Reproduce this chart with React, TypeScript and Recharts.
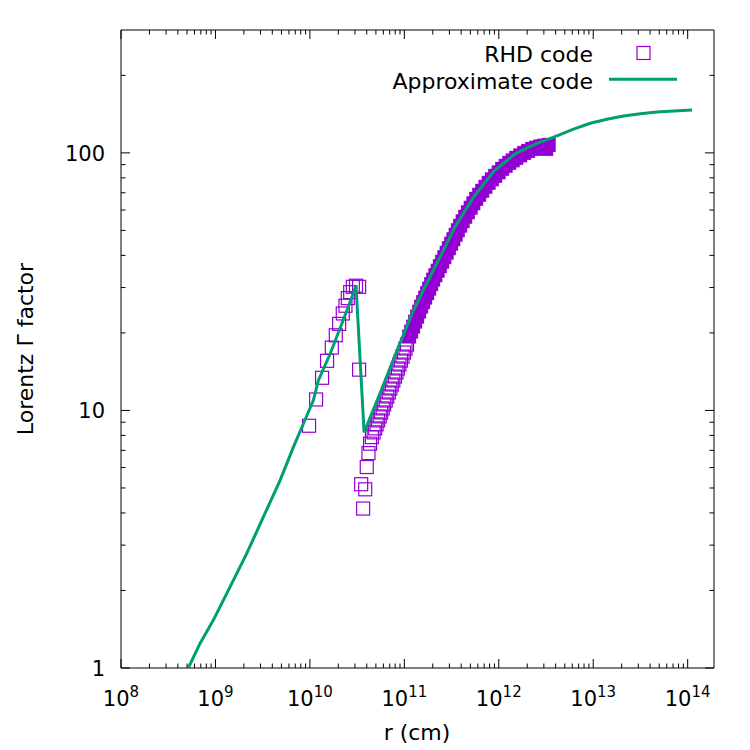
import React from "react";
import { ComposedChart, XAxis, YAxis, Line, Scatter, Legend, ReferenceLine } from "recharts";

// RHD code, rising branch up to the peak: [r (cm), Lorentz factor]
const rhdRise = [
  [9.8e9, 8.72],
  [1.163e10, 11.03],
  [1.346e10, 13.39],
  [1.52e10, 15.58],
  [1.706e10, 17.54],
  [1.88e10, 19.58],
  [2.04e10, 21.68],
  [2.23e10, 23.8],
  [2.38e10, 25.5],
  [2.52e10, 27.3],
  [2.67e10, 28.8],
  [2.85e10, 30.2],
  [3.08e10, 30.5],
  [3.32e10, 30.2],
];

// RHD code, the drop after the peak
const rhdDrop = [
  [3.32e10, 14.4],
  [3.49e10, 5.17],
  [3.66e10, 4.16],
  [3.85e10, 4.94],
  [4.0e10, 6.03],
  [4.17e10, 6.83],
  [4.34e10, 7.43],
];

// RHD code, lower part of the dense band (squares still visible one by one)
const rhdBandLow = [
  [4.53e10, 7.88], [4.73e10, 8.22], [4.91e10, 8.52], [5.09e10, 8.83],
  [5.28e10, 9.15], [5.49e10, 9.48], [5.69e10, 9.82], [5.9e10, 10.18],
  [6.12e10, 10.55], [6.35e10, 10.93], [6.6e10, 11.33], [6.85e10, 11.74],
  [7.11e10, 12.17], [7.37e10, 12.61], [7.65e10, 13.07], [7.95e10, 13.54],
  [8.25e10, 14.04], [8.55e10, 14.55], [8.87e10, 15.08], [9.2e10, 15.62],
  [9.57e10, 16.19], [9.93e10, 16.78], [1.03e11, 17.39], [1.068e11, 18.02],
];

// RHD code, upper part of the band (squares so dense they merge)
const rhdBandHigh = [
  [1.124e11, 19.36], [1.18e11, 20.24], [1.239e11, 21.16], [1.302e11, 22.13],
  [1.366e11, 23.14], [1.435e11, 24.2], [1.507e11, 25.3], [1.582e11, 26.34],
  [1.661e11, 27.42], [1.744e11, 28.54], [1.831e11, 29.71], [1.923e11, 30.93],
  [2.019e11, 32.2], [2.131e11, 33.51], [2.254e11, 34.88], [2.377e11, 36.32],
  [2.515e11, 37.8], [2.653e11, 39.36], [2.806e11, 40.97], [2.961e11, 42.65],
  [3.132e11, 44.39], [3.304e11, 46.21], [3.495e11, 48.11], [3.687e11, 50.07],
  [3.9e11, 52.14], [4.146e11, 54.27], [4.406e11, 56.49], [4.706e11, 58.81],
  [5.04e11, 61.22], [5.38e11, 63.72], [5.763e11, 66.33], [6.2e11, 68.74],
  [6.672e11, 71.25], [7.215e11, 73.84], [7.816e11, 76.52], [8.454e11, 78.93],
  [9.16e11, 81.45], [9.975e11, 84.03], [1.086e12, 86.7], [1.183e12, 89.06],
  [1.289e12, 91.46], [1.404e12, 93.52], [1.529e12, 95.63], [1.685e12, 97.79],
  [1.858e12, 100], [2.048e12, 101.8], [2.258e12, 103.6], [2.49e12, 104.8],
  [2.746e12, 105.98], [3.026e12, 106.7], [3.178e12, 103.6], [3.378e12, 107.4],
];

// Approximate code
const approxCode = [
  [5.16e8, 1.0],
  [6.87e8, 1.246],
  [9.5e8, 1.535],
  [1.428e9, 2.066],
  [2.146e9, 2.784],
  [3.217e9, 3.858],
  [4.834e9, 5.355],
  [6.687e9, 7.206],
  [8.532e9, 8.878],
  [1.089e10, 10.94],
  [1.23e10, 13.07],
  [1.64e10, 16.6],
  [2.46e10, 24.4],
  [3.08e10, 30.5],
  [3.75e10, 8.22],
  [5.68e10, 11.95],
  [8.59e10, 17.5],
  [1.21e11, 23.8],
  [1.62e11, 29.7],
  [2.39e11, 39.5],
  [3.45e11, 51.7],
  [5.36e11, 67.0],
  [8.93e11, 85.2],
  [1.49e12, 99.1],
  [2.43e12, 108.1],
  [4.126e12, 116.4],
  [6.184e12, 123.6],
  [9.295e12, 130.3],
  [1.397e13, 135.1],
  [2.094e13, 139.1],
  [3.148e13, 142.0],
  [4.73e13, 144.2],
  [7.09e13, 145.5],
  [1.111e14, 146.8],
];

const xMajor = [1e8, 1e9, 1e10, 1e11, 1e12, 1e13, 1e14];
const yMajor = [1, 10, 100];
const yLabels = ["1", "10", "100"];
const xDomain = [1e8, 1.9e14];
const yDomain = [1, 300];

const xTicks = xMajor.flatMap((d) => [1, 2, 3, 4, 5, 6, 7, 8, 9].map((m) => m * d)).filter((v) => v <= xDomain[1]);
const yTicks = yMajor.flatMap((d) => [1, 2, 3, 4, 5, 6, 7, 8, 9].map((m) => m * d)).filter((v) => v < yDomain[1]);

const toRows = (arr) => arr.map(([r, g]) => ({ r, g }));

const GREEN = "#009e73";
const PURPLE = "#9400d3";
const FONT = "'DejaVu Sans', sans-serif";
const PLOT_W = 593;
const PLOT_H = 638;

const isMajor = (v) => Math.abs(Math.log10(v) - Math.round(Math.log10(v))) < 1e-6;

function XTick(props) {
  const { x, y, payload } = props;
  const v = payload.value;
  const major = isMajor(v);
  const len = major ? 9 : 4.5;
  const e = Math.round(Math.log10(v));
  return (
    <g>
      <line x1={x} y1={y} x2={x} y2={y - len} stroke="#000" />
      <line x1={x} y1={y - PLOT_H} x2={x} y2={y - PLOT_H + len} stroke="#000" />
      {major && (
        <text x={x} y={y + 38} textAnchor="middle" fontSize={21} fill="#000" fontFamily={FONT}>
          10<tspan dy={-9} fontSize={15}>{e}</tspan>
        </text>
      )}
    </g>
  );
}

function YTick(props) {
  const { x, y, payload } = props;
  const v = payload.value;
  const major = isMajor(v);
  const len = major ? 9 : 4.5;
  const idx = yMajor.findIndex((m) => Math.abs(m - v) < 1e-9);
  return (
    <g>
      <line x1={x} y1={y} x2={x + len} y2={y} stroke="#000" />
      <line x1={x + PLOT_W} y1={y} x2={x + PLOT_W - len} y2={y} stroke="#000" />
      {major && (
        <text x={x - 16} y={y + 8} textAnchor="end" fontSize={21} fill="#000" fontFamily={FONT}>
          {yLabels[idx]}
        </text>
      )}
    </g>
  );
}

const hollowSquare = (props) => (
  <rect x={props.cx - 6.5} y={props.cy - 6.5} width={13} height={13} fill="none" stroke={PURPLE} strokeWidth={1.2} />
);
const solidSquare = (props) => (
  <rect x={props.cx - 7} y={props.cy - 7} width={14} height={14} fill={PURPLE} stroke="none" />
);

function LegendBox() {
  return (
    <svg width={340} height={60} style={{ display: "block", fontFamily: FONT }}>
      <text x={223} y={24} textAnchor="end" fontSize={22} fill="#000">RHD code</text>
      <rect x={267} y={8.5} width={13} height={13} fill="none" stroke={PURPLE} strokeWidth={1.2} />
      <text x={223} y={50.6} textAnchor="end" fontSize={22} fill="#000">Approximate code</text>
      <line x1={239} x2={307} y1={41.3} y2={41.3} stroke={GREEN} strokeWidth={3} />
    </svg>
  );
}

export default function App() {
  return (
    <div style={{ position: "absolute", left: 0, top: 0, width: 750, height: 750, background: "#fff" }}>
      <ComposedChart width={750} height={750} margin={{ top: 30, right: 36, bottom: 0, left: 0 }} style={{ fontFamily: FONT }}>
        <XAxis
          dataKey="r"
          type="number"
          scale="log"
          domain={xDomain}
          allowDataOverflow
          ticks={xTicks}
          interval={0}
          height={82}
          tickSize={0}
          tickMargin={0}
          tickLine={false}
          tick={<XTick />}
          axisLine={{ stroke: "#000" }}
          label={() => (
            <text x={417} y={740} textAnchor="middle" fontSize={22} fill="#000" fontFamily={FONT}>r (cm)</text>
          )}
        />
        <YAxis
          dataKey="g"
          type="number"
          scale="log"
          domain={yDomain}
          allowDataOverflow
          ticks={yTicks}
          interval={0}
          width={121}
          tickSize={0}
          tickMargin={0}
          tickLine={false}
          tick={<YTick />}
          axisLine={{ stroke: "#000" }}
          label={() => (
            <text x={33} y={349} transform="rotate(-90 33 349)" textAnchor="middle" fontSize={22} fill="#000" fontFamily={FONT}>
              Lorentz Γ factor
            </text>
          )}
        />
        <ReferenceLine y={yDomain[1]} stroke="#000" ifOverflow="visible" />
        <ReferenceLine x={xDomain[1]} stroke="#000" ifOverflow="visible" />
        <Scatter name="RHD code" data={toRows(rhdRise)} dataKey="g" shape={hollowSquare} isAnimationActive={false} />
        <Scatter name="RHD code drop" data={toRows(rhdDrop)} dataKey="g" shape={hollowSquare} isAnimationActive={false} />
        <Scatter name="RHD code band" data={toRows(rhdBandLow)} dataKey="g" shape={hollowSquare} isAnimationActive={false} />
        <Scatter name="RHD code band high" data={toRows(rhdBandHigh)} dataKey="g" shape={solidSquare} isAnimationActive={false} />
        <Line
          name="Approximate code"
          data={toRows(approxCode)}
          dataKey="g"
          type="linear"
          stroke={GREEN}
          strokeWidth={3}
          dot={false}
          zIndex={700}
          isAnimationActive={false}
        />
        <Legend
          layout="horizontal"
          verticalAlign="middle"
          align="center"
          wrapperStyle={{ left: 370, top: 38, width: 340, height: 60 }}
          content={() => <LegendBox />}
        />
      </ComposedChart>
    </div>
  );
}
